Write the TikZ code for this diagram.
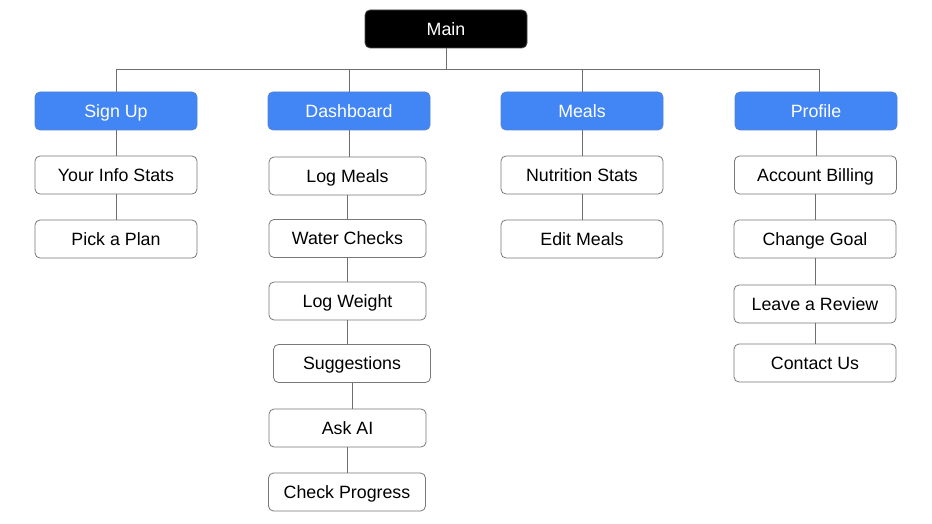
\documentclass[tikz,border=0pt]{standalone}
\usepackage{fontspec}
\setmainfont{Liberation Sans}
\definecolor{gblue}{RGB}{66,133,244}
\definecolor{edge}{RGB}{110,110,110}
\definecolor{bord}{RGB}{120,120,120}
\begin{document}
\begin{tikzpicture}[x=1pt,y=-1pt,
  box/.style={draw=bord,line width=0.8pt,rounded corners=5pt,minimum width=162pt,minimum height=38pt,inner sep=0pt,text height=12.7pt,text depth=0pt,fill=white,font=\fontsize{17.8}{20}\selectfont,text=black},
  bluebox/.style={box,fill=gblue,text=white,draw=gblue!70!gray},
  mainbox/.style={box,fill=black,text=white,draw=black!70},
  conn/.style={draw=edge,line width=0.8pt}]
\useasboundingbox[fill=white] (0,0) rectangle (932,524);
\node[mainbox] (main) at (446,29) {Main};
\node[bluebox] (signup) at (116,111) {Sign Up};
\node[bluebox] (dash) at (349,111) {Dashboard};
\node[bluebox] (meals) at (582,111) {Meals};
\node[bluebox] (profile) at (816,111) {Profile};
\node[box] (info) at (116,175) {Your Info Stats};
\node[box] (plan) at (116,239) {Pick a Plan};
\node[box,minimum width=157pt] (logmeals) at (347.5,176) {Log Meals};
\node[box,minimum width=157pt] (water) at (347.5,238.5) {Water Checks};
\node[box,minimum width=157pt] (weight) at (347.5,301) {Log Weight};
\node[box,minimum width=157pt] (sugg) at (352,363.5) {Suggestions};
\node[box,minimum width=157pt] (ask) at (347.5,428) {Ask AI};
\node[box,minimum width=157pt] (progress) at (347,492) {Check Progress};
\node[box] (nutri) at (582,175) {Nutrition Stats};
\node[box] (edit) at (582,239) {Edit Meals};
\node[box] (billing) at (815.5,175) {Account Billing};
\node[box] (goal) at (815,239) {Change Goal};
\node[box] (review) at (815,304) {Leave a Review};
\node[box] (contact) at (815,363) {Contact Us};
\begin{scope}[on background layer/.try]
\draw[conn] (main.south) -- ++(0,21) coordinate (bus);
\draw[conn] (signup.north) |- (bus);
\draw[conn] (dash.north) |- (bus);
\draw[conn] (meals.north) |- (bus);
\draw[conn] ([xshift=3pt]profile.north) |- (bus);
\foreach \a/\b in {signup/info,info/plan,dash/logmeals,logmeals/water,water/weight,weight/sugg,sugg/ask,ask/progress,meals/nutri,nutri/edit,profile/billing,billing/goal,goal/review,review/contact}
  \draw[conn] (\a.south) -- (\a.south |- \b.north);
\end{scope}
\end{tikzpicture}
\end{document}
